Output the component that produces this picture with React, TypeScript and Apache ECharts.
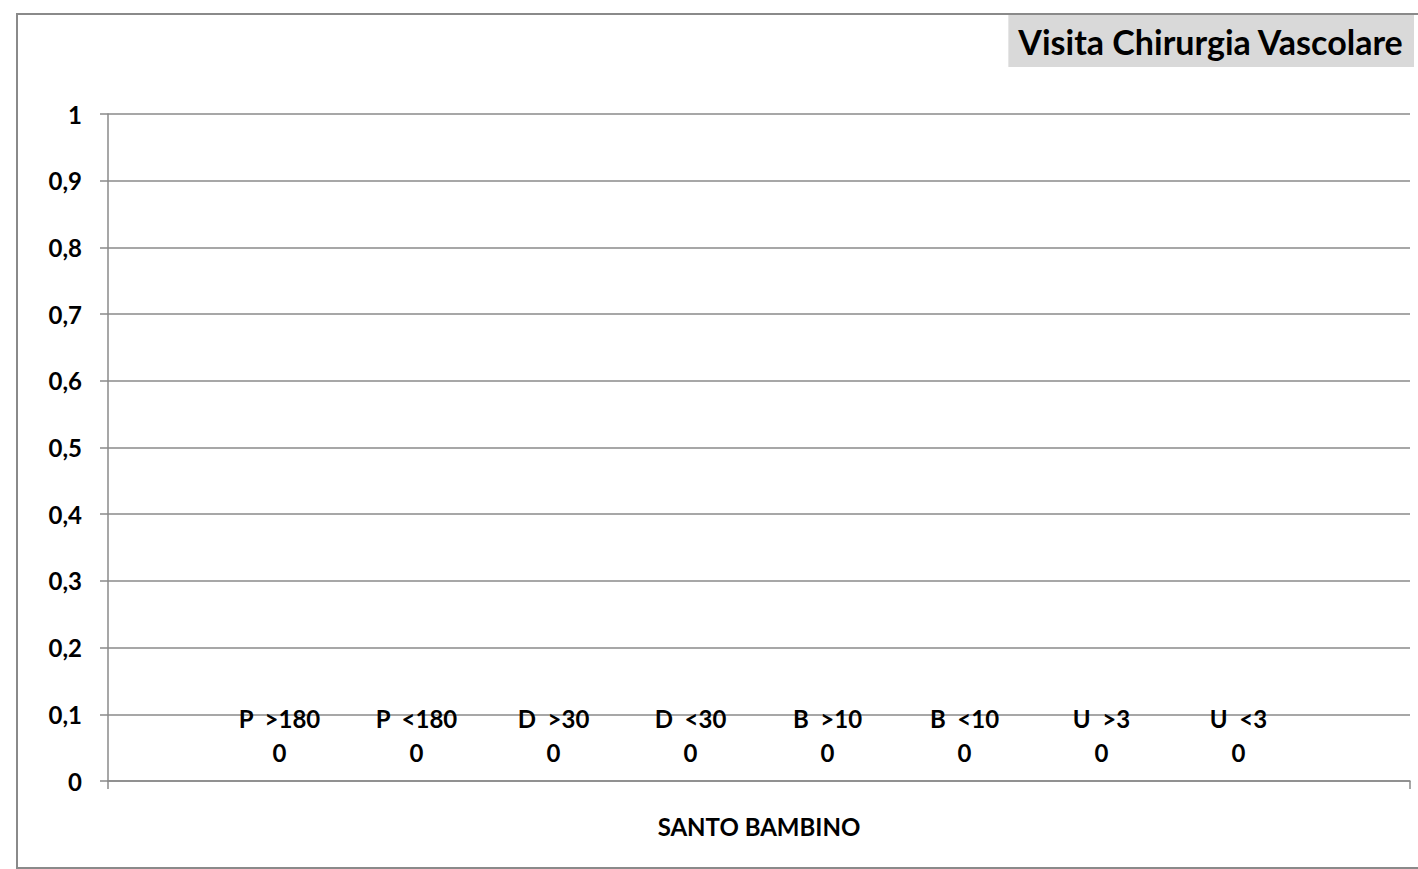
import React, { useEffect, useRef } from "react";
import * as echarts from "echarts";

const title = "Visita Chirurgia Vascolare";
const categories = ["SANTO BAMBINO"];
const seriesNames = ["P  >180", "P  <180", "D  >30", "D  <30", "B  >10", "B  <10", "U  >3", "U  <3"];
const seriesValues = [[0], [0], [0], [0], [0], [0], [0], [0]];
const yMin = 0;
const yMax = 1;
const yStep = 0.1;

const FONT = "Lato, 'Open Sans', sans-serif";
const GRAY = "#8a8a8a";

export default function App() {
  const ref = useRef<HTMLDivElement>(null);
  useEffect(() => {
    const chart = echarts.init(ref.current!, null, { renderer: "svg" });
    chart.setOption({
      animation: false,
      backgroundColor: "#ffffff",
      textStyle: { fontFamily: FONT },
      title: {
        text: title,
        right: 4,
        top: 15,
        backgroundColor: "#d9d9d9",
        padding: [9, 10, 9, 10],
        textStyle: { fontFamily: FONT, fontSize: 34, lineHeight: 34, fontWeight: "bold", color: "#000" },
      },
      graphic: [
        {
          type: "rect",
          shape: { x: 17, y: 14, width: 1440, height: 854 },
          style: { fill: "none", stroke: GRAY, lineWidth: 2 },
          z: -1,
        },
      ],
      grid: { left: 108, right: 8, top: 114, bottom: 88 },
      xAxis: {
        type: "category",
        data: categories,
        axisLine: { lineStyle: { color: GRAY, width: 1.5 } },
        axisTick: { show: true, length: 8, lineStyle: { color: GRAY, width: 1.5 } },
        axisLabel: { margin: 33, fontSize: 24, fontWeight: "bold", color: "#000", fontFamily: FONT },
      },
      yAxis: {
        type: "value",
        min: yMin,
        max: yMax,
        interval: yStep,
        axisLine: { show: true, lineStyle: { color: GRAY, width: 1.5 } },
        axisTick: { show: true, length: 8, lineStyle: { color: GRAY, width: 1.5 } },
        splitLine: { lineStyle: { color: GRAY, width: 1.5 } },
        axisLabel: {
          margin: 26,
          fontSize: 24,
          fontWeight: "bold",
          color: "#000",
          fontFamily: FONT,
          formatter: (v: number) => String(+v.toFixed(1)).replace(".", ","),
        },
      },
      series: seriesNames.map((name, i) => ({
        type: "bar",
        name,
        data: seriesValues[i],
        barWidth: 137,
        barGap: "0%",
        label: {
          show: true,
          position: "top",
          distance: 12,
          formatter: "{a}\n{c}",
          fontSize: 24,
          fontWeight: "bold",
          color: "#000",
          lineHeight: 34,
          fontFamily: FONT,
          align: "center",
        },
      })),
    });
    return () => chart.dispose();
  }, []);
  return (
    <div
      ref={ref}
      style={{ position: "fixed", left: 0, top: 0, width: 1418, height: 869 }}
    />
  );
}
